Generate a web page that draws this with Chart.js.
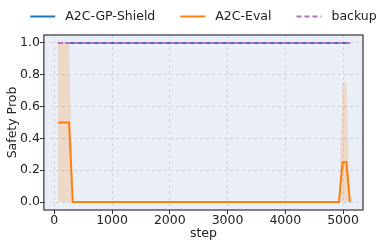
<!DOCTYPE html>
<html><head><meta charset="utf-8">
<script src="https://cdn.jsdelivr.net/npm/chart.js@4/dist/chart.umd.min.js"></script>
<style>html,body{margin:0;padding:0;background:#fff}#wrap{width:389px;height:245px}</style>
</head><body><div id="wrap"><canvas id="c" width="389" height="245"></canvas></div>
<script>
const seriesNames = ['A2C-GP-Shield', 'A2C-Eval', 'backup'];
const shieldSteps = [192, 5056];
const shieldValues = [1.0, 1.0];
const evalSteps = [64, 128, 192, 256, 320, 4928, 4992, 5056, 5120];
const evalValues = [0.5, 0.5, 0.5, 0.5, 0.0, 0.0, 0.25, 0.25, 0.0];
const evalUpper = [1.0, 1.0, 1.0, 1.0, 0.0, 0.0, 0.75, 0.75, 0.0];
const evalLower = [0.0, 0.0, 0.0, 0.0, 0.0, 0.0, 0.0, 0.0, 0.0];
const backupSteps = [64, 5120];
const backupValues = [1.0, 1.0];
const xTicks = [0, 1000, 2000, 3000, 4000, 5000];
const yTicks = [0.0, 0.2, 0.4, 0.6, 0.8, 1.0];

const pts = (xs, ys) => xs.map((x, i) => ({x, y: ys[i]}));
const FONT = 'DejaVu Sans';
const FS = 12.5;

const bgPlugin = {
  id: 'bg',
  beforeDraw(chart) {
    const {ctx, chartArea: a} = chart;
    ctx.save(); ctx.fillStyle = '#eaeff7';
    ctx.fillRect(a.left, a.top, a.right - a.left, a.bottom - a.top); ctx.restore();
  },
  afterDraw(chart) {
    const {ctx, chartArea: a} = chart;
    ctx.save(); ctx.strokeStyle = '#333'; ctx.lineWidth = 1.2;
    ctx.strokeRect(a.left, a.top, a.right - a.left, a.bottom - a.top); ctx.restore();
    // legend (matplotlib style: handle 2em, pad 0.8em, column spacing 2em)
    ctx.save();
    ctx.font = FS + 'px "' + FONT + '"';
    ctx.textBaseline = 'middle';
    const handle = 2 * FS, pad = 0.8 * FS, gap = 2 * FS;
    const items = chart.data.datasets.slice(0, 3);
    const widths = items.map(d => ctx.measureText(d.label).width);
    const total = widths.reduce((s, w) => s + handle + pad + w, 0) + gap * (items.length - 1);
    let x = (a.left + a.right) / 2 - total / 2;
    const y = 16.5;
    items.forEach((d, i) => {
      ctx.beginPath();
      ctx.strokeStyle = d.borderColor; ctx.lineWidth = d.borderWidth;
      ctx.setLineDash(d.borderDash || []);
      ctx.moveTo(x, y); ctx.lineTo(x + handle, y); ctx.stroke();
      ctx.setLineDash([]);
      ctx.fillStyle = '#222';
      ctx.fillText(d.label, x + handle + pad, y);
      x += handle + pad + widths[i] + gap;
    });
    ctx.restore();
  }
};

new Chart(document.getElementById('c'), {
  type: 'line',
  data: {
    datasets: [
      {label: seriesNames[0], data: pts(shieldSteps, shieldValues), borderColor: '#1f77b4', borderWidth: 2, pointRadius: 0, order: 2, fill: false},
      {label: seriesNames[1], data: pts(evalSteps, evalValues), borderColor: '#ff7f0e', borderWidth: 2, pointRadius: 0, order: 3, fill: false},
      {label: seriesNames[2], data: pts(backupSteps, backupValues), borderColor: '#b56fc4', borderWidth: 2, borderDash: [5, 3], pointRadius: 0, order: 1, fill: false},
      {label: 'upper', data: pts(evalSteps, evalUpper), borderWidth: 0, borderColor: 'rgba(0,0,0,0)', backgroundColor: 'rgba(255,127,14,0.2)', pointRadius: 0, order: 4, fill: '+1'},
      {label: 'lower', data: pts(evalSteps, evalLower), borderWidth: 0, borderColor: 'rgba(0,0,0,0)', pointRadius: 0, order: 5, fill: false}
    ]
  },
  options: {
    responsive: false, animation: false, devicePixelRatio: 1,
    layout: {padding: {left: 0, right: 26, top: 35, bottom: 3.5}},
    plugins: {tooltip: {enabled: false}, legend: {display: false}},
    scales: {
      x: {
        type: 'linear', min: -180, max: 5345,
        afterBuildTicks: (s) => { s.ticks = xTicks.map(v => ({value: v})); },
        ticks: {font: {family: FONT, size: FS, lineHeight: 1}, color: '#222', padding: 0, maxRotation: 0, callback: v => String(v)},
        grid: {color: 'rgba(170,175,185,0.55)', lineWidth: 0.8, drawTicks: true, tickLength: 4, tickColor: '#333', tickBorderDash: [], tickWidth: 1},
        border: {display: false, dash: [3, 3]},
        title: {display: true, text: 'step', font: {family: FONT, size: FS, lineHeight: 1.2}, color: '#222', padding: {top: 0, bottom: 0}}
      },
      y: {
        type: 'linear', min: -0.05, max: 1.05,
        afterBuildTicks: (s) => { s.ticks = yTicks.map(v => ({value: v})); },
        ticks: {font: {family: FONT, size: FS, lineHeight: 1}, color: '#222', padding: 0, callback: v => Number(v).toFixed(1)},
        grid: {color: 'rgba(170,175,185,0.55)', lineWidth: 0.8, drawTicks: true, tickLength: 4, tickColor: '#333', tickBorderDash: [], tickWidth: 1},
        border: {display: false, dash: [3, 3]},
        title: {display: true, text: 'Safety Prob', font: {family: FONT, size: FS, lineHeight: 1.2}, color: '#222', padding: {top: 5, bottom: 0}}
      }
    }
  },
  plugins: [bgPlugin]
});
</script></body></html>
